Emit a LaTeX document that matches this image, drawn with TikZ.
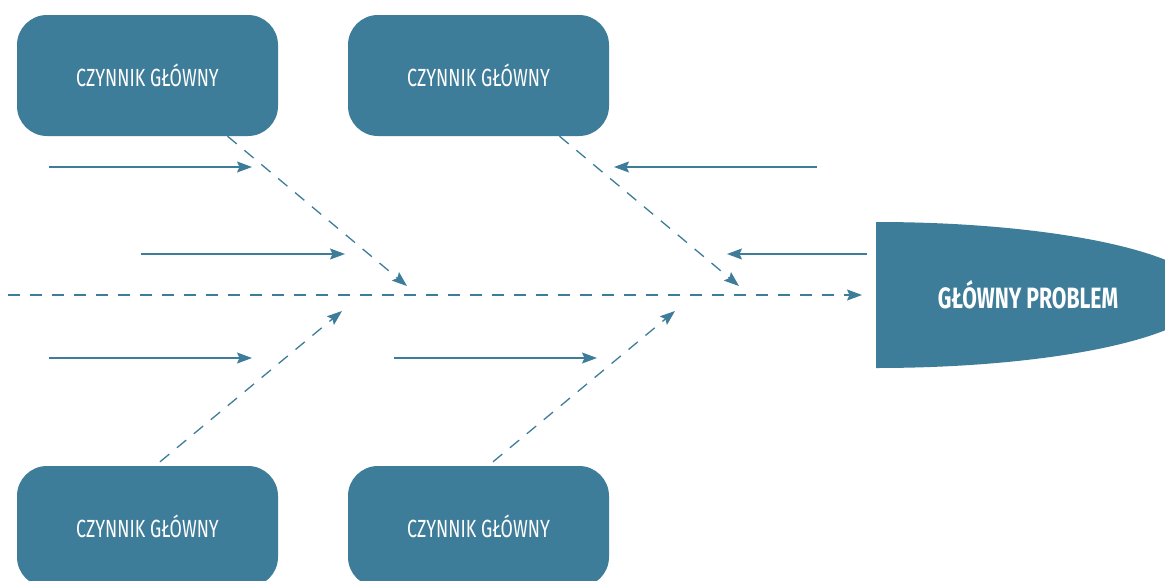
\documentclass[tikz,border=0pt]{standalone}
\usepackage{fontspec}
\setmainfont{Fira Sans}
\newfontfamily\handfont[FakeStretch=0.72]{Fira Sans}
\usetikzlibrary{arrows.meta}
\definecolor{fishblue}{HTML}{3E7D99}
\begin{document}
\begin{tikzpicture}[x=1pt,y=-1pt,
  causebox/.style={fill=fishblue,draw=none,rounded corners=30pt,minimum width=261pt,minimum height=121pt,inner sep=0pt,text=white,font=\handfont\fontsize{24.8}{25}\selectfont},
  headtext/.style={text=white,inner sep=0pt,font=\handfont\bfseries\fontsize{29.4}{30}\selectfont},
  tip/.style={-{Stealth[length=15pt,width=11pt,inset=2.5pt]}},
  causeline/.style={draw=fishblue,line width=1.3pt,dash pattern=on 12pt off 10pt,tip},
  subline/.style={draw=fishblue,line width=1.3pt,tip}]
\clip (0,0) rectangle (1165,581);
\fill[white] (0,0) rectangle (1165,581);
% head
\begin{scope}
\clip (876,200) rectangle (1170,400);
\fill[fishblue] (876,295) ellipse [x radius=330, y radius=73];
\end{scope}
\node[headtext] (head) at (1028,295) {GŁÓWNY PROBLEM};
% cause boxes
\node[causebox] (c1) at (147.5,75.5) {CZYNNIK GŁÓWNY};
\node[causebox] (c2) at (478.5,75.5) {CZYNNIK GŁÓWNY};
\node[causebox] (c3) at (147.5,526.5) {CZYNNIK GŁÓWNY};
\node[causebox] (c4) at (478.5,526.5) {CZYNNIK GŁÓWNY};
% spine
\coordinate (tail) at (8,295);
\coordinate (spinetip) at (862,295);
\draw[causeline] (tail) -- (spinetip);
% diagonals
\coordinate (t1) at (407,286);
\coordinate (t2) at (739,286);
\coordinate (t3) at (342,311);
\coordinate (t4) at (675,311);
\draw[causeline] ([xshift=80pt]c1.south) -- (t1);
\draw[causeline] ([xshift=81pt]c2.south) -- (t2);
\draw[causeline] ([xshift=12.5pt,yshift=4pt]c3.north) -- (t3);
\draw[causeline] ([xshift=14.5pt,yshift=4pt]c4.north) -- (t4);
% sub-causes
\coordinate (a1s) at (49,167);  \coordinate (a1e) at (252,167);
\coordinate (a2s) at (141,254); \coordinate (a2e) at (345,254);
\coordinate (a3s) at (49,358);  \coordinate (a3e) at (252,358);
\coordinate (a4s) at (394,358); \coordinate (a4e) at (597,358);
\coordinate (a5s) at (817,167); \coordinate (a5e) at (614,167);
\coordinate (a6s) at (867,254); \coordinate (a6e) at (727,254);
\draw[subline] (a1s) -- (a1e);
\draw[subline] (a2s) -- (a2e);
\draw[subline] (a3s) -- (a3e);
\draw[subline] (a4s) -- (a4e);
\draw[subline] (a5s) -- (a5e);
\draw[subline] (a6s) -- (a6e);
\end{tikzpicture}
\end{document}
